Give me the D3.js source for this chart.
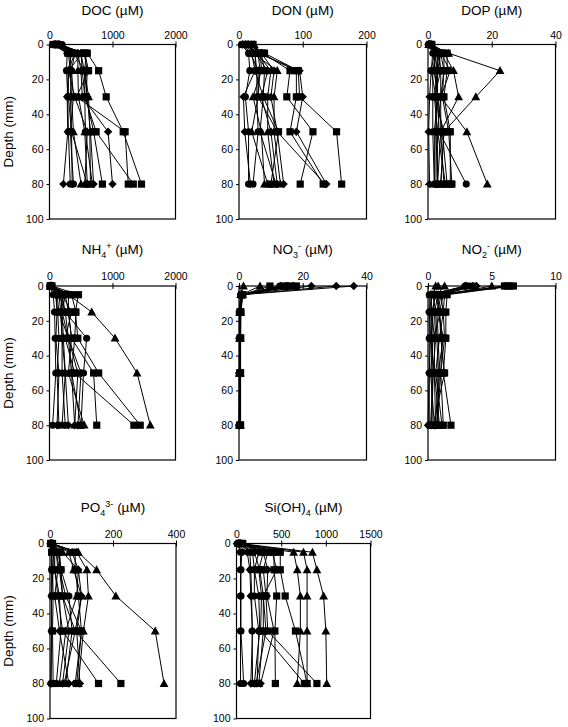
<!DOCTYPE html>
<html><head><meta charset="utf-8">
<script src="https://cdn.jsdelivr.net/npm/d3@7"></script>
<style>
body{margin:0;background:#fff}
text{font-family:Arial,"Liberation Sans",sans-serif;fill:#000}
</style>
</head><body>
<svg id="c" width="568" height="727"></svg>
<script>
// Depths (mm) at which every profile was sampled
const depths = [0, 5, 15, 30, 50, 80];
const depthTicks = [0, 20, 40, 60, 80, 100];
// Marker of each profile (16 profiles)
const markers = ["diamond","diamond","diamond","diamond","square","square","square","square",
                 "triangle","triangle","triangle","triangle","circle","circle","circle","circle"];

// Concentrations (µM), one row per profile, values at the depths above
const doc = [
 [80,350,300,280,290,220],[120,450,500,520,930,1000],[100,400,350,330,350,360],[150,500,550,600,650,700],
 [90,600,780,900,1170,1460],[130,560,620,430,1200,1250],[60,550,600,580,700,840],[110,580,560,560,740,1330],
 [70,300,330,350,380,500],[140,450,450,460,560,600],[100,380,560,620,640,650],[160,520,300,400,600,560],
 [50,280,270,290,300,330],[90,320,350,380,330,380],[180,400,300,300,350,600],[200,500,520,560,570,680]];
const don = [
 [5,20,25,7,9,18],[10,30,95,100,90,137],[15,25,45,35,50,60],[20,35,55,50,60,70],
 [12,40,93,95,153,161],[18,38,80,75,116,96],[8,32,90,90,80,132],[22,35,40,38,62,50],
 [6,18,30,30,20,45],[14,28,50,45,45,55],[24,34,35,22,35,40],[10,22,60,55,55,65],
 [4,15,17,10,15,15],[16,25,28,28,30,22],[20,30,33,30,60,135],[12,26,25,38,33,58]];
const dop = [
 [0.2,2,1,0.5,0.2,0.5],[0.5,3,3,2,3,3],[1,4,5,4,4,5],[0.3,2.5,2,3,2.5,2.5],
 [0.8,5,5,4.5,6.5,7.5],[1.2,6,6,5,7,7],[0.5,4,3,3,4.5,6],[1,3.5,4,2,5,4],
 [0.6,6.5,22.6,15,5,4],[0.4,5,8,9.6,4,3],[1,4,7,4,12.2,18.6],[0.2,3,2.5,3,2,2],
 [0.1,1.5,1,2.5,2.5,3],[0.3,2,2,3,3.5,12],[0.7,3,4,4,3,5.5],[0.5,2.5,1.5,1.5,1.5,2]];
const nh4 = [
 [10,100,120,100,150,120],[20,200,250,300,350,400],[15,150,180,200,250,300],[30,250,200,300,500,450],
 [40,460,410,450,780,1440],[20,300,300,350,700,750],[10,200,350,250,400,1340],[25,350,420,400,350,500],
 [30,300,670,1040,1390,1600],[20,180,200,220,250,200],[10,120,150,300,450,400],[35,250,300,350,300,550],
 [5,60,80,90,100,50],[15,100,130,150,120,150],[20,150,250,590,540,500],[25,220,180,200,200,250]];
const no3 = [
 [36,0.8,0.3,0.2,0.2,0.1],[30.5,0.6,0.2,0.3,0.1,0.2],[22.7,1.0,0.4,0.3,0.3,0.2],[15,0.7,0.3,0.2,0.2,0.3],
 [9.7,1.1,0.5,0.5,0.4,0.4],[18,0.9,0.4,0.4,0.3,0.3],[14,0.8,0.3,0.4,0.4,0.2],[16,1.2,0.6,0.5,0.5,0.5],
 [1.4,0.5,0.2,0.2,0.1,0.1],[6.6,0.7,0.3,0.3,0.2,0.2],[13,0.9,0.4,0.3,0.3,0.3],[17,1.0,0.5,0.4,0.4,0.4],
 [15.5,0.5,0.1,0.1,0.1,0.0],[12.8,0.6,0.2,0.2,0.2,0.1],[17,0.9,0.3,0.3,0.2,0.2],[14.5,0.7,0.2,0.2,0.3,0.2]];
const no2 = [
 [3.5,0.3,0.1,0.2,0.1,0.0],[3.0,0.8,0.5,0.6,0.4,0.3],[3.8,1.0,0.8,1.2,0.8,0.6],[2.9,0.5,1.0,0.4,0.2,0.5],
 [6.7,1.5,1.4,1.4,1.2,1.8],[6.2,1.0,1.2,1.3,1.0,1.2],[6.0,0.6,0.3,0.2,0.5,0.9],[6.4,1.2,0.9,1.0,1.3,0.4],
 [0.6,0.4,0.6,0.7,0.8,0.8],[1.3,0.7,0.9,1.1,1.0,0.7],[5.0,1.3,1.2,0.9,0.6,1.1],[0.8,0.2,0.3,0.5,0.5,0.6],
 [2.9,0.1,0.1,0.1,0.1,0.1],[3.3,0.5,0.4,0.3,0.4,0.2],[3.6,0.9,0.7,0.8,0.9,0.7],[3.1,0.3,0.2,0.3,0.3,0.3]];
const po4 = [
 [2,10,10,5,5,3],[4,30,30,40,60,40],[3,20,25,15,30,60],[6,70,90,100,85,95],
 [5,30,35,40,80,225],[3,10,15,25,40,154],[2,5,8,10,8,10],[8,80,80,90,100,85],
 [4,90,148,209,334,362],[6,85,117,122,106,90],[3,60,75,100,80,45],[5,40,90,85,50,30],
 [1,5,5,5,5,3],[2,15,15,30,35,20],[4,25,35,60,70,50],[3,20,30,50,100,80]];
const si = [
 [5,120,150,160,180,160],[20,200,260,300,330,220],[40,300,350,340,420,270],[30,250,200,250,260,200],
 [60,490,490,545,660,790],[50,420,420,450,430,435],[30,350,300,330,350,900],[70,300,250,280,270,760],
 [40,850,900,975,1000,1010],[30,750,790,790,790,790],[20,640,680,715,715,680],[50,400,450,300,300,250],
 [10,45,45,45,45,45],[15,60,50,50,50,80],[25,150,160,170,175,180],[35,180,200,200,250,230]];

// Axis tick values
const docTicks = [0,1000,2000], donTicks = [0,100,200], dopTicks = [0,20,40];
const nh4Ticks = [0,1000,2000], no3Ticks = [0,20,40], no2Ticks = [0,5,10];
const po4Ticks = [0,200,400], siTicks = [0,500,1000,1500];

// Titles as [text, style] parts
const titles = {
  doc: [["DOC (µM)",""]],
  don: [["DON (µM)",""]],
  dop: [["DOP (µM)",""]],
  nh4: [["NH",""],["4","sub"],["+","sup"],[" (µM)",""]],
  no3: [["NO",""],["3","sub"],["-","sup"],[" (µM)",""]],
  no2: [["NO",""],["2","sub"],["-","sup"],[" (µM)",""]],
  po4: [["PO",""],["4","sub"],["3-","sup"],[" (µM)",""]],
  si:  [["Si(OH)",""],["4","sub"],[" (µM)",""]]
};

const panels = [
  {data:doc, title:titles.doc, ticks:docTicks, x:49.5, y:44.5, w:126, h:174.5, ylab:true,  ty:15,  lty:35},
  {data:don, title:titles.don, ticks:donTicks, x:239,  y:44.5, w:127.5, h:174.5, ylab:false, ty:15, lty:35},
  {data:dop, title:titles.dop, ticks:dopTicks, x:428,  y:44.5, w:127.5, h:174.5, ylab:false, ty:15, lty:35},
  {data:nh4, title:titles.nh4, ticks:nh4Ticks, x:49.5, y:286,  w:126, h:174, ylab:true,  ty:254, lty:275},
  {data:no3, title:titles.no3, ticks:no3Ticks, x:239,  y:286,  w:127.5, h:174, ylab:false, ty:254, lty:275},
  {data:no2, title:titles.no2, ticks:no2Ticks, x:428,  y:286,  w:127.5, h:174, ylab:false, ty:254, lty:275},
  {data:po4, title:titles.po4, ticks:po4Ticks, x:50,   y:543.5,w:126, h:175, ylab:true,  ty:512, lty:533},
  {data:si,  title:titles.si,  ticks:siTicks,  x:236.5,y:543.5,w:134, h:175, ylab:false, ty:512, lty:533}
];

const svg = d3.select("#c");

function markerPath(type){
  if(type==="diamond") return "M0,-4.2L4.2,0L0,4.2L-4.2,0Z";
  if(type==="square") return "M-3.6,-3.6H3.6V3.6H-3.6Z";
  if(type==="triangle") return "M0,-4.6L4.4,3.4H-4.4Z";
  return d3.symbol(d3.symbolCircle, 40)();
}

panels.forEach(p=>{
  const g = svg.append("g");
  const xMax = p.ticks[p.ticks.length-1];
  const x = d3.scaleLinear().domain([0,xMax]).range([p.x, p.x+p.w]);
  const y = d3.scaleLinear().domain([0,100]).range([p.y, p.y+p.h]);

  // box
  g.append("rect").attr("x",p.x).attr("y",p.y).attr("width",p.w).attr("height",p.h)
    .attr("fill","none").attr("stroke","#000").attr("stroke-width",1.2);

  // top axis (ticks cross the axis line)
  const ax = g.append("g").attr("transform",`translate(0,${p.y})`)
    .call(d3.axisTop(x).tickValues(p.ticks).tickSize(3).tickPadding(3).tickFormat(d3.format("d")));
  ax.select(".domain").remove();
  ax.selectAll("line").attr("stroke","#000").attr("y1",3).attr("y2",-3);
  ax.selectAll("text").attr("font-size","10.5px").attr("fill","#000")
    .attr("font-family","Arial, 'Liberation Sans', sans-serif");

  // left axis
  const ay = g.append("g").attr("transform",`translate(${p.x},0)`)
    .call(d3.axisLeft(y).tickValues(depthTicks).tickSize(3).tickPadding(3));
  ay.select(".domain").remove();
  ay.selectAll("line").attr("stroke","#000");
  ay.selectAll("text").attr("font-size","10.5px").attr("fill","#000")
    .attr("font-family","Arial, 'Liberation Sans', sans-serif");

  // title
  const t = g.append("text").attr("x",p.x+p.w/2).attr("y",p.ty)
    .attr("text-anchor","middle").attr("font-size","13.5px");
  let shift = 0;
  p.title.forEach(([s,st])=>{
    const ts = t.append("tspan").text(s);
    if(st==="sub"){ ts.attr("dy",4-shift).attr("font-size","9px"); shift=4; }
    else if(st==="sup"){ ts.attr("dy",-5-shift).attr("font-size","9px"); shift=-5; }
    else { if(shift!==0){ ts.attr("dy",-shift); shift=0; } }
  });

  if(p.ylab){
    g.append("text").attr("transform",`translate(13,${p.y+p.h/2}) rotate(-90)`)
      .attr("text-anchor","middle").attr("font-size","13.5px").text("Depth (mm)");
  }

  const line = d3.line().x(d=>x(d[0])).y(d=>y(d[1]));
  p.data.forEach((vals,i)=>{
    const pts = vals.map((v,j)=>[v,depths[j]]);
    g.append("path").attr("d",line(pts)).attr("fill","none").attr("stroke","#000").attr("stroke-width",1);
    g.selectAll(null).data(pts).enter().append("path")
      .attr("d",markerPath(markers[i]))
      .attr("transform",d=>`translate(${x(d[0])},${y(d[1])})`)
      .attr("fill","#000");
  });
});
</script>
</body></html>
